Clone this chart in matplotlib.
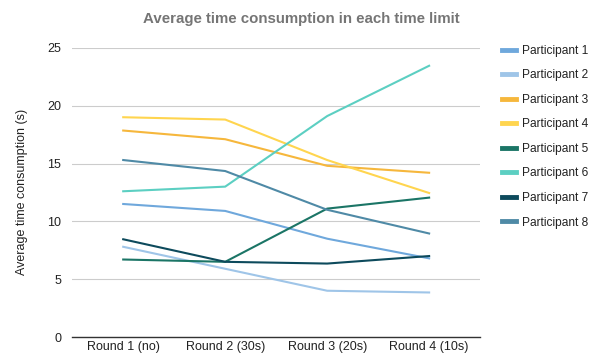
import matplotlib
matplotlib.use("Agg")
import matplotlib.pyplot as plt

plt.rcParams["font.family"] = ["Liberation Sans", "DejaVu Sans"]

rounds = ["Round 1 (no)", "Round 2 (30s)", "Round 3 (20s)", "Round 4 (10s)"]

p1 = [11.5, 10.9, 8.5, 6.8]
p2 = [7.8, 5.9, 4.0, 3.85]
p3 = [17.85, 17.1, 14.8, 14.2]
p4 = [19.0, 18.8, 15.3, 12.45]
p5 = [6.7, 6.5, 11.1, 12.05]
p6 = [12.6, 13.0, 19.1, 23.45]
p7 = [8.45, 6.5, 6.35, 7.0]
p8 = [15.3, 14.35, 11.0, 8.95]

series = {
    "Participant 1": (p1, "#6fa8dc"),
    "Participant 2": (p2, "#9fc5e8"),
    "Participant 3": (p3, "#f6b73c"),
    "Participant 4": (p4, "#ffd54f"),
    "Participant 5": (p5, "#1b7566"),
    "Participant 6": (p6, "#5ccfc2"),
    "Participant 7": (p7, "#0d4a5c"),
    "Participant 8": (p8, "#4f8aa6"),
}

fig = plt.figure(figsize=(5.92, 3.57), dpi=100)
ax = fig.add_axes([0.122, 0.056, 0.689, 0.81])

x = list(range(len(rounds)))
for name, (vals, col) in series.items():
    ax.plot(x, vals, color=col, linewidth=1.5, label=name)

ax.set_xlim(-0.5, 3.5)
ax.set_ylim(0, 25)
ax.set_yticks([0, 5, 10, 15, 20, 25])
ax.set_xticks(x)
ax.set_xticklabels(rounds)
ax.tick_params(axis="both", length=0, labelsize=9, colors="#222222")
ax.tick_params(axis="y", pad=8)
ax.tick_params(axis="x", pad=3)
ax.grid(axis="y", color="#cccccc", linewidth=0.8)
ax.set_axisbelow(True)
for s in ["top", "right", "left"]:
    ax.spines[s].set_visible(False)
ax.spines["bottom"].set_color("#333333")
ax.spines["bottom"].set_linewidth(1.0)

ax.set_ylabel("Average time consumption (s)", fontsize=9, color="#222222", labelpad=14)
fig.text(0.509, 0.948, "Average time consumption in each time limit",
         ha="center", va="center", fontsize=10.8, fontweight="bold", color="#757575")

leg = fig.legend(loc="upper left", bbox_to_anchor=(0.84, 0.888), frameon=False,
                 fontsize=8.6, handlelength=1.2, handletextpad=0.5, labelspacing=1.05,
                 borderaxespad=0)
for h in leg.get_lines():
    h.set_linewidth(3.5)
for t in leg.get_texts():
    t.set_color("#222222")

fig.savefig("out.png", dpi=100)
